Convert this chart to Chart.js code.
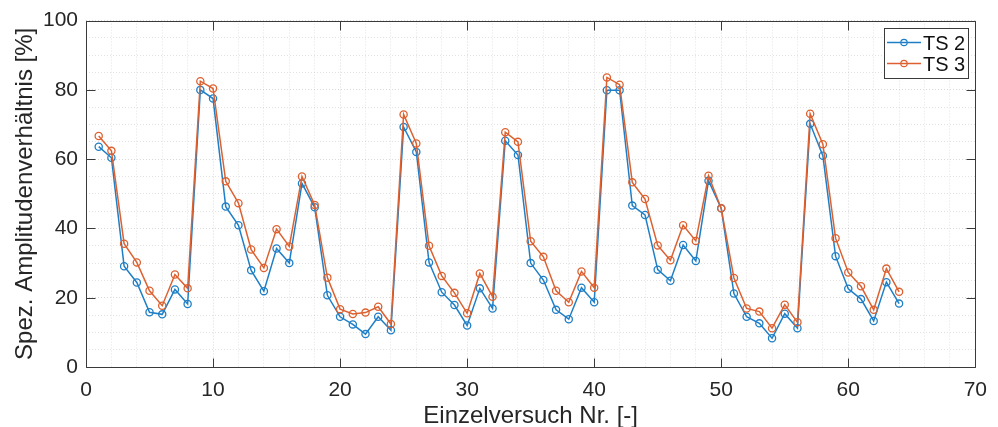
<!DOCTYPE html>
<html>
<head>
<meta charset="utf-8">
<script src="https://cdn.jsdelivr.net/npm/chart.js@4.4.1/dist/chart.umd.min.js"></script>
<style>
html,body{margin:0;padding:0;background:#fff;}
#wrap{width:998px;height:427px;position:relative;}
</style>
</head>
<body>
<div id="wrap"><canvas id="c"></canvas></div>
<script>
const trials = [1,2,3,4,5,6,7,8,9,10,11,12,13,14,15,16,17,18,19,20,21,22,23,24,25,26,27,28,29,30,31,32,33,34,35,36,37,38,39,40,41,42,43,44,45,46,47,48,49,50,51,52,53,54,55,56,57,58,59,60,61,62,63,64];
const ts2 = [63.6,60.4,29.1,24.4,15.8,15.2,22.4,18.2,80.0,77.5,46.3,40.9,27.9,21.9,34.2,30.0,53.0,46.1,20.7,14.5,12.3,9.5,14.5,10.6,69.3,62.1,30.2,21.6,17.9,12.0,22.7,16.9,65.3,61.2,30.0,25.1,16.5,13.8,22.9,18.7,79.9,79.9,46.6,43.9,28.1,24.9,35.2,30.6,53.8,45.8,21.2,14.5,12.6,8.3,15.4,11.2,70.2,61.0,32.0,22.6,19.6,13.3,24.5,18.3];
const ts3 = [66.7,62.4,35.6,30.2,22.0,17.7,26.7,22.7,82.5,80.4,53.6,47.3,33.9,28.6,39.8,34.8,55.0,46.8,25.8,16.7,15.3,15.7,17.4,12.4,72.9,64.5,35.0,26.3,21.4,15.5,27.0,20.3,67.8,65.0,36.3,31.8,22.0,18.7,27.6,22.9,83.6,81.5,53.3,48.5,35.1,30.8,40.9,36.4,55.2,45.8,25.7,16.9,16.0,11.2,18.0,12.9,73.1,64.3,37.2,27.3,23.3,16.5,28.4,21.7];
const seriesNames = ['TS 2','TS 3'];
const xTickLabels = [0,10,20,30,40,50,60,70];
const yTickLabels = [0,20,40,60,80,100];

const BLUE = '#1f7fc6';
const ORANGE = '#dd6130';
const AXC = '#262626';
const FONT = '"Liberation Sans", Arial, sans-serif';

const mk = arr => trials.map((t,i)=>({x:t,y:arr[i]}));

const boxPlugin = {
  id:'boxPlugin',
  afterDraw(chart){
    const ctx = chart.ctx;
    const {left,right,top,bottom} = chart.chartArea;
    ctx.save();
    ctx.strokeStyle = '#3a3a3a';
    ctx.lineWidth = 1;
    ctx.beginPath();
    const L=Math.round(left)+0.5, R=Math.round(right)+0.5, T=Math.round(top)+0.5, B=Math.round(bottom)+0.5;
    ctx.rect(L,T,R-L,B-T);
    ctx.stroke();
    const tl = 9;
    ctx.beginPath();
    xTickLabels.forEach(v=>{
      const p = Math.round(chart.scales.x.getPixelForValue(v))+0.5;
      ctx.moveTo(p,B); ctx.lineTo(p,B-tl);
      ctx.moveTo(p,T); ctx.lineTo(p,T+tl);
    });
    yTickLabels.forEach(v=>{
      const p = Math.round(chart.scales.y.getPixelForValue(v))+0.5;
      ctx.moveTo(L,p); ctx.lineTo(L+tl,p);
      ctx.moveTo(R,p); ctx.lineTo(R-tl,p);
    });
    ctx.stroke();
    // legend
    const lx=884.5, ly=28.5, lw=84, lh=50;
    ctx.fillStyle='#fff';
    ctx.fillRect(lx,ly,lw,lh);
    ctx.strokeStyle='#3a3a3a';
    ctx.strokeRect(lx,ly,lw,lh);
    const cols=[BLUE,ORANGE];
    ctx.font = '20px '+FONT;
    ctx.textBaseline='alphabetic';
    seriesNames.forEach((n,i)=>{
      const y = 42.5 + i*21;
      ctx.strokeStyle=cols[i];
      ctx.lineWidth=1.5;
      ctx.beginPath(); ctx.moveTo(887,y); ctx.lineTo(921,y); ctx.stroke();
      ctx.lineWidth=1.2;
      ctx.beginPath(); ctx.arc(904,y,3.2,0,Math.PI*2); ctx.stroke();
      ctx.fillStyle='#111';
      ctx.fillText(n,923,y+7.2);
    });
    ctx.restore();
  }
};

const gridColor = (major) => major ? 'rgba(0,0,0,0.15)' : 'rgba(0,0,0,0.11)';

new Chart(document.getElementById('c'),{
  type:'line',
  data:{
    datasets:[
      {label:seriesNames[0],data:mk(ts2),borderColor:BLUE,backgroundColor:'rgba(0,0,0,0)',borderWidth:1.5,
       pointRadius:3.6,pointBorderWidth:1.3,pointBackgroundColor:'rgba(0,0,0,0)',pointBorderColor:BLUE,tension:0,order:1},
      {label:seriesNames[1],data:mk(ts3),borderColor:ORANGE,backgroundColor:'rgba(0,0,0,0)',borderWidth:1.5,
       pointRadius:3.6,pointBorderWidth:1.3,pointBackgroundColor:'rgba(0,0,0,0)',pointBorderColor:ORANGE,tension:0,order:0}
    ]
  },
  options:{
    responsive:true,maintainAspectRatio:false,animation:false,
    layout:{padding:{left:0,right:21,top:19,bottom:0}},
    plugins:{legend:{display:false},tooltip:{enabled:false}},
    scales:{
      x:{type:'linear',min:0,max:70,
        ticks:{stepSize:2,autoSkip:false,maxRotation:0,padding:11,color:AXC,font:{family:FONT,size:21},
          callback:v=> (v%10===0? String(v):'')},
        grid:{drawTicks:false,color:c=>gridColor(c.tick && c.tick.value%10===0),lineWidth:1},
        border:{display:false,dash:[1,2]},
        title:{display:true,text:'Einzelversuch Nr. [-]',color:AXC,font:{family:FONT,size:24,lineHeight:0.9},padding:{top:0,bottom:0}},
        afterFit:s=>{s.height=60;}
      },
      y:{type:'linear',min:0,max:100,
        ticks:{stepSize:5,autoSkip:false,padding:8,color:AXC,font:{family:FONT,size:21},
          callback:v=> (v%20===0? String(v):'')},
        grid:{drawTicks:false,color:c=>gridColor(c.tick && c.tick.value%20===0),lineWidth:1},
        border:{display:false,dash:[1,2]},
        title:{display:true,text:'Spez. Amplitudenverhältnis [%]',color:AXC,font:{family:FONT,size:24,lineHeight:0.9},padding:{top:15,bottom:0}},
        afterFit:s=>{s.width=86;}
      }
    }
  },
  plugins:[boxPlugin]
});
</script>
</body>
</html>
